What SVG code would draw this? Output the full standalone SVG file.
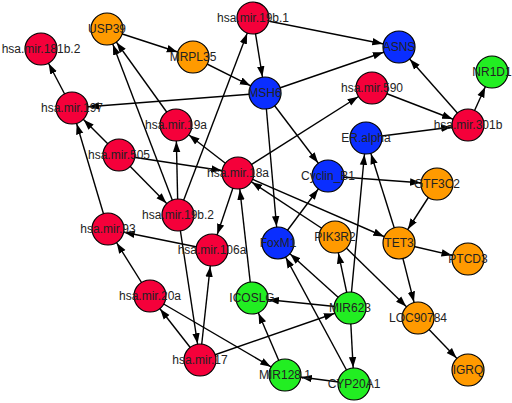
<svg xmlns="http://www.w3.org/2000/svg" width="512" height="403" viewBox="0 0 512 403">
<style>
.e{stroke:#000;stroke-width:1.4;fill:none;marker-end:url(#arr)}
.n circle{stroke:#000;stroke-width:1.2}
.r circle{fill:#F5003A}
.o circle{fill:#FF9A00}
.b circle{fill:#0A2EFF}
.g circle{fill:#22EE22}
text{font-family:"Liberation Sans",Arial,sans-serif;font-size:12px;fill:#222;text-anchor:middle}
</style>
<defs>
<marker id="arr" viewBox="0 0 30 10" refX="27" refY="5" markerUnits="userSpaceOnUse" markerWidth="30" markerHeight="10" orient="auto">
<path d="M0,1.3 L10.5,5 L0,8.7 z" fill="#000"/>
</marker>
</defs>
<g id="edges">
<line class="e" x1="107" y1="29" x2="193" y2="57"/>
<line class="e" x1="193" y1="57" x2="265" y2="93"/>
<line class="e" x1="72" y1="108" x2="41" y2="49"/>
<line class="e" x1="265" y1="93" x2="72" y2="108"/>
<line class="e" x1="176" y1="125" x2="107" y2="29"/>
<line class="e" x1="178" y1="215" x2="107" y2="29"/>
<line class="e" x1="178" y1="215" x2="253" y2="18"/>
<line class="e" x1="253" y1="18" x2="399" y2="47"/>
<line class="e" x1="253" y1="18" x2="265" y2="93"/>
<line class="e" x1="265" y1="93" x2="399" y2="47"/>
<line class="e" x1="372" y1="88" x2="468" y2="125"/>
<line class="e" x1="468" y1="125" x2="399" y2="47"/>
<line class="e" x1="468" y1="125" x2="492" y2="72"/>
<line class="e" x1="366" y1="138" x2="468" y2="125"/>
<line class="e" x1="238" y1="173" x2="372" y2="88"/>
<line class="e" x1="265" y1="93" x2="328" y2="176"/>
<line class="e" x1="265" y1="93" x2="278" y2="243"/>
<line class="e" x1="278" y1="243" x2="328" y2="176"/>
<line class="e" x1="328" y1="176" x2="437" y2="184"/>
<line class="e" x1="437" y1="184" x2="399" y2="243"/>
<line class="e" x1="399" y1="243" x2="468" y2="259"/>
<line class="e" x1="399" y1="243" x2="366" y2="138"/>
<line class="e" x1="350" y1="308" x2="366" y2="138"/>
<line class="e" x1="350" y1="308" x2="335" y2="237"/>
<line class="e" x1="238" y1="173" x2="399" y2="243"/>
<line class="e" x1="335" y1="237" x2="238" y2="173"/>
<line class="e" x1="335" y1="237" x2="418" y2="318"/>
<line class="e" x1="238" y1="173" x2="176" y2="125"/>
<line class="e" x1="119" y1="155" x2="238" y2="173"/>
<line class="e" x1="119" y1="155" x2="72" y2="108"/>
<line class="e" x1="119" y1="155" x2="178" y2="215"/>
<line class="e" x1="178" y1="215" x2="176" y2="125"/>
<line class="e" x1="108" y1="229" x2="72" y2="108"/>
<line class="e" x1="212" y1="250" x2="108" y2="229"/>
<line class="e" x1="238" y1="173" x2="212" y2="250"/>
<line class="e" x1="252" y1="298" x2="238" y2="173"/>
<line class="e" x1="178" y1="215" x2="200" y2="360"/>
<line class="e" x1="200" y1="360" x2="212" y2="250"/>
<line class="e" x1="200" y1="360" x2="150" y2="296"/>
<line class="e" x1="150" y1="296" x2="108" y2="229"/>
<line class="e" x1="150" y1="296" x2="285" y2="375"/>
<line class="e" x1="200" y1="360" x2="350" y2="308"/>
<line class="e" x1="350" y1="308" x2="252" y2="298"/>
<line class="e" x1="350" y1="308" x2="278" y2="243"/>
<line class="e" x1="354" y1="384" x2="278" y2="243"/>
<line class="e" x1="285" y1="375" x2="252" y2="298"/>
<line class="e" x1="354" y1="384" x2="285" y2="375"/>
<line class="e" x1="350" y1="308" x2="354" y2="384"/>
<line class="e" x1="399" y1="243" x2="418" y2="318"/>
<line class="e" x1="418" y1="318" x2="468" y2="370"/>
</g>
<g id="n181b2" class="n r"><circle cx="41" cy="49" r="16"/><text x="41" y="53">hsa.mir.181b.2</text></g>
<g id="USP39" class="n o"><circle cx="107" cy="29" r="16"/><text x="107" y="33">USP39</text></g>
<g id="MRPL35" class="n o"><circle cx="193" cy="57" r="16"/><text x="193" y="61">MRPL35</text></g>
<g id="n19b1" class="n r"><circle cx="253" cy="18" r="16"/><text x="253" y="22">hsa.mir.19b.1</text></g>
<g id="ASNS" class="n b"><circle cx="399" cy="47" r="16"/><text x="399" y="51">ASNS</text></g>
<g id="NR1D1" class="n g"><circle cx="492" cy="72" r="16"/><text x="492" y="76">NR1D1</text></g>
<g id="MSH6" class="n b"><circle cx="265" cy="93" r="16"/><text x="265" y="97">MSH6</text></g>
<g id="n590" class="n r"><circle cx="372" cy="88" r="16"/><text x="372" y="92">hsa.mir.590</text></g>
<g id="n197" class="n r"><circle cx="72" cy="108" r="16"/><text x="72" y="112">hsa.mir.197</text></g>
<g id="n19a" class="n r"><circle cx="176" cy="125" r="16"/><text x="176" y="129">hsa.mir.19a</text></g>
<g id="n301b" class="n r"><circle cx="468" cy="125" r="16"/><text x="468" y="129">hsa.mir.301b</text></g>
<g id="ERalpha" class="n b"><circle cx="366" cy="138" r="16"/><text x="366" y="142">ER.alpha</text></g>
<g id="n505" class="n r"><circle cx="119" cy="155" r="16"/><text x="119" y="159">hsa.mir.505</text></g>
<g id="n18a" class="n r"><circle cx="238" cy="173" r="16"/><text x="238" y="177">hsa.mir.18a</text></g>
<g id="CyclinB1" class="n b"><circle cx="328" cy="176" r="16"/><text x="328" y="180">Cyclin_B1</text></g>
<g id="GTF3C2" class="n o"><circle cx="437" cy="184" r="16"/><text x="437" y="188">GTF3C2</text></g>
<g id="n19b2" class="n r"><circle cx="178" cy="215" r="16"/><text x="178" y="219">hsa.mir.19b.2</text></g>
<g id="n93" class="n r"><circle cx="108" cy="229" r="16"/><text x="108" y="233">hsa.mir.93</text></g>
<g id="PIK3R2" class="n o"><circle cx="335" cy="237" r="16"/><text x="335" y="241">PIK3R2</text></g>
<g id="FoxM1" class="n b"><circle cx="278" cy="243" r="16"/><text x="278" y="247">FoxM1</text></g>
<g id="TET3" class="n o"><circle cx="399" cy="243" r="16"/><text x="399" y="247">TET3</text></g>
<g id="n106a" class="n r"><circle cx="212" cy="250" r="16"/><text x="212" y="254">hsa.mir.106a</text></g>
<g id="PTCD3" class="n o"><circle cx="468" cy="259" r="16"/><text x="468" y="263">PTCD3</text></g>
<g id="n20a" class="n r"><circle cx="150" cy="296" r="16"/><text x="150" y="300">hsa.mir.20a</text></g>
<g id="ICOSLG" class="n g"><circle cx="252" cy="298" r="16"/><text x="252" y="302">ICOSLG</text></g>
<g id="MIR623" class="n g"><circle cx="350" cy="308" r="16"/><text x="350" y="312">MIR623</text></g>
<g id="LOC90784" class="n o"><circle cx="418" cy="318" r="16"/><text x="418" y="322">LOC90784</text></g>
<g id="n17" class="n r"><circle cx="200" cy="360" r="16"/><text x="200" y="364">hsa.mir.17</text></g>
<g id="IGRQ" class="n o"><circle cx="468" cy="370" r="16"/><text x="468" y="374">IGRQ</text></g>
<g id="MIR1281" class="n g"><circle cx="285" cy="375" r="16"/><text x="285" y="379">MIR128.1</text></g>
<g id="CYP20A1" class="n g"><circle cx="354" cy="384" r="16"/><text x="354" y="388">CYP20A1</text></g>
</svg>
